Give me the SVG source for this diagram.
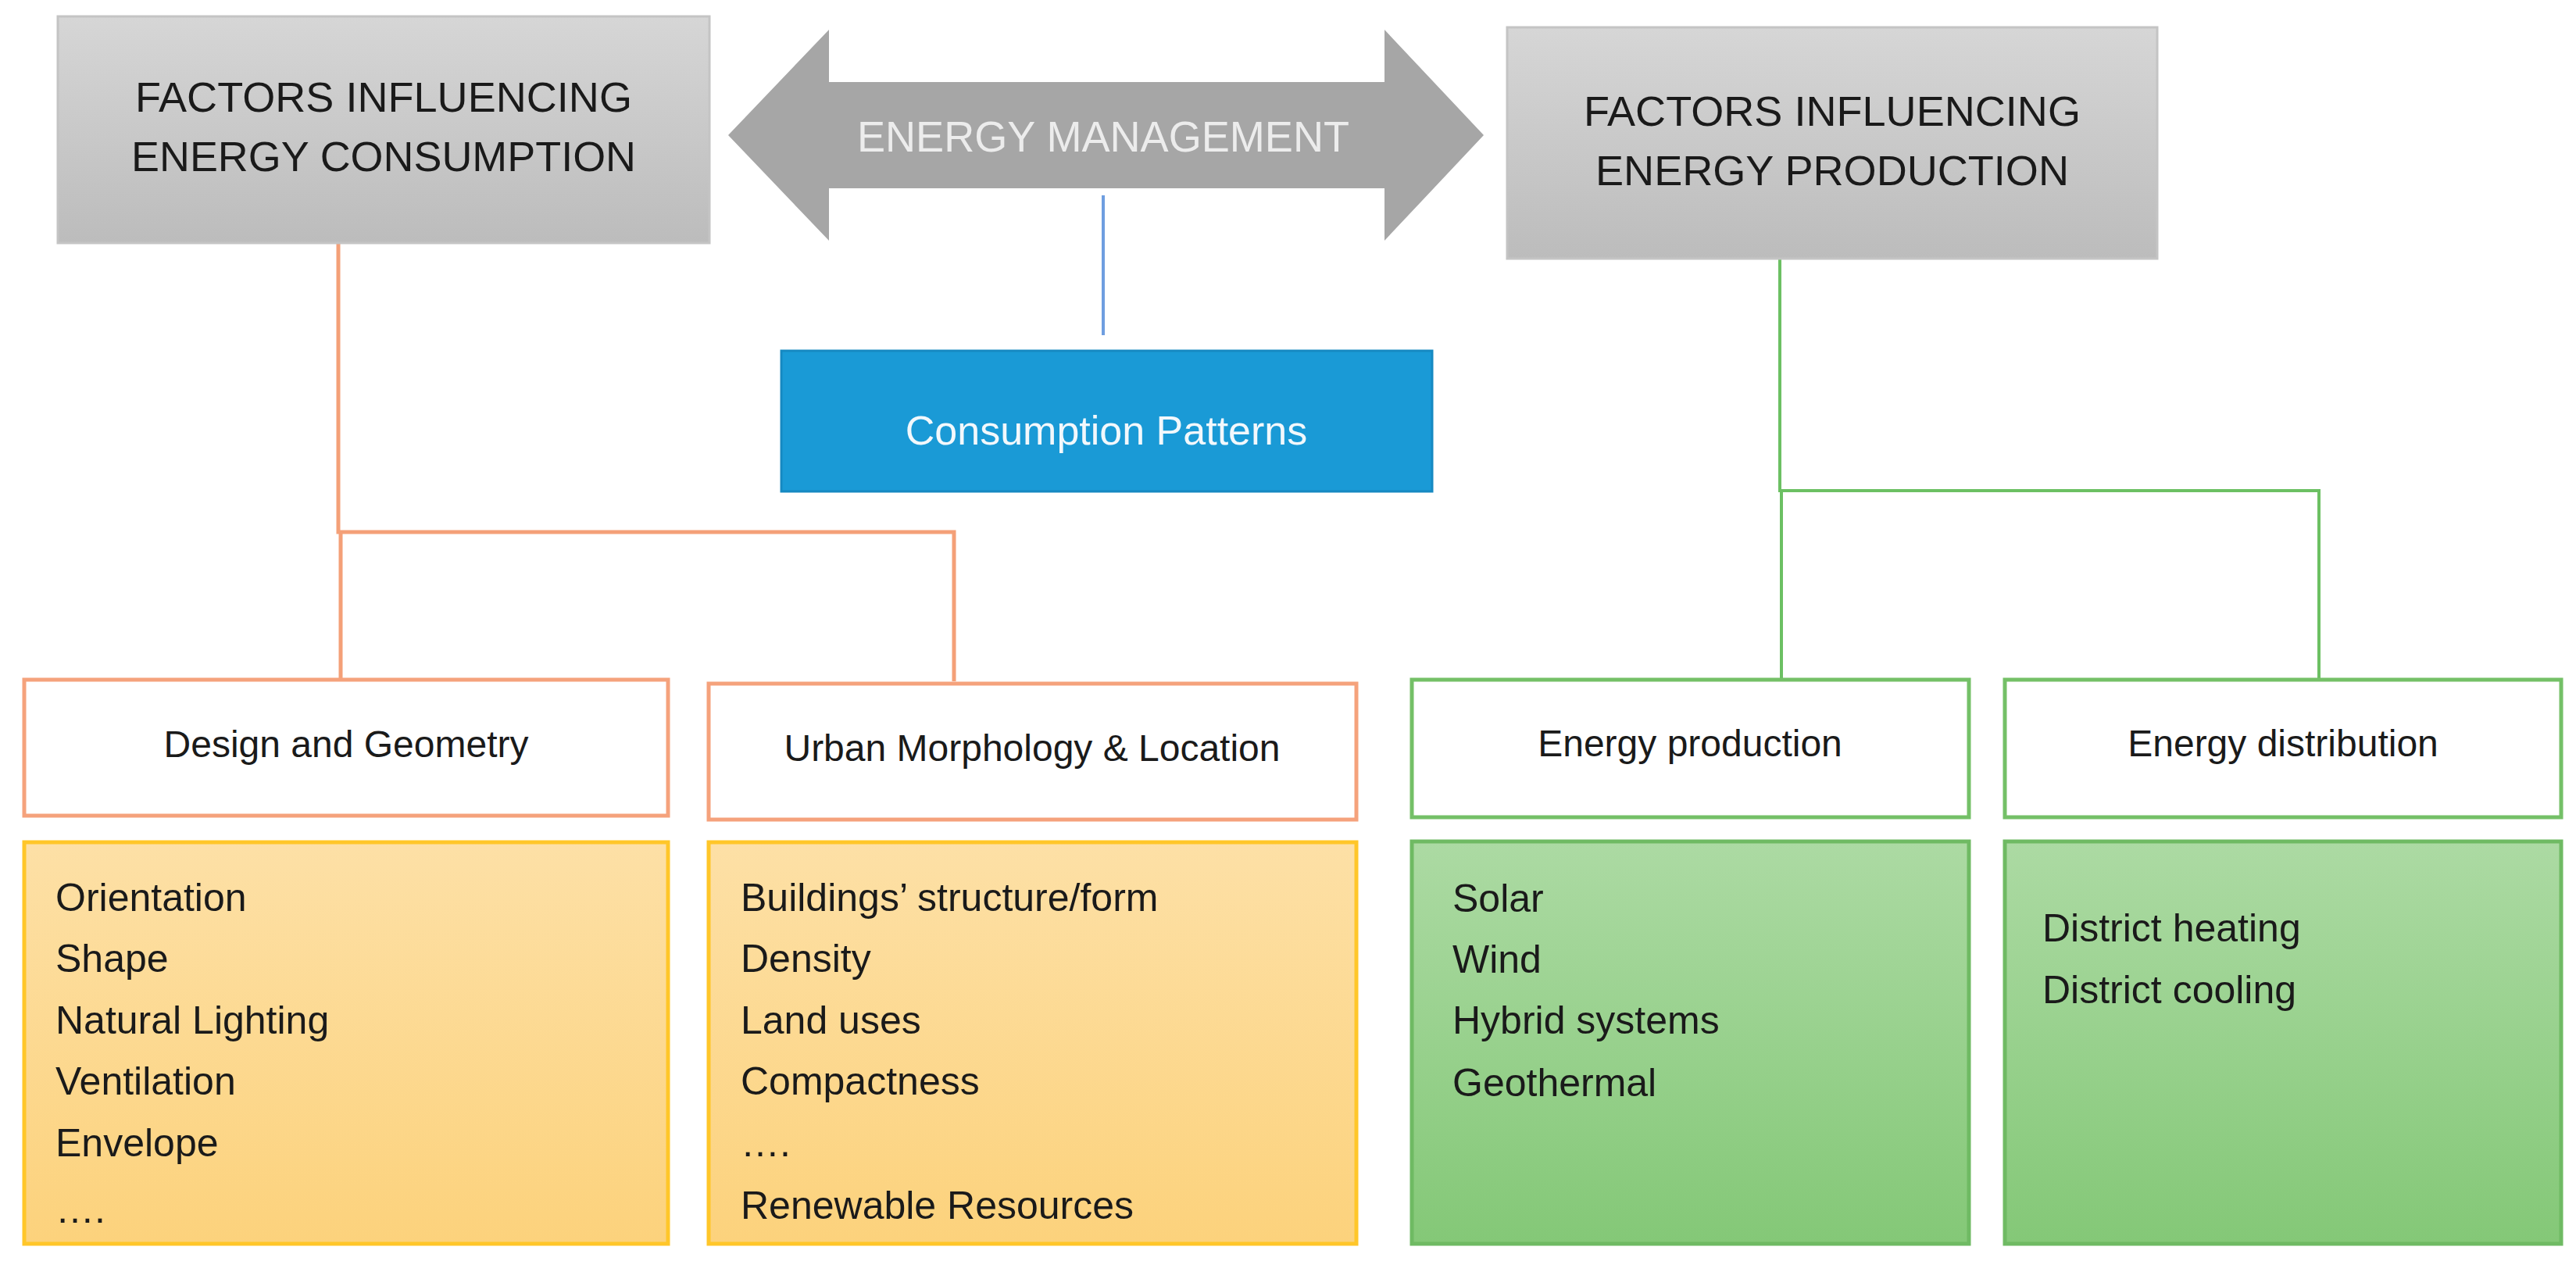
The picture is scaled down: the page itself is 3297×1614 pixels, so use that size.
<svg xmlns="http://www.w3.org/2000/svg" width="3297" height="1614" viewBox="0 0 3297 1614">
<defs>
<linearGradient id="gGray" x1="0" y1="0" x2="0" y2="1"><stop offset="0" stop-color="#d6d6d6"/><stop offset="1" stop-color="#bcbcbc"/></linearGradient>
<linearGradient id="gYel" x1="0" y1="0" x2="0" y2="1"><stop offset="0" stop-color="#fde0a6"/><stop offset="1" stop-color="#fcd27c"/></linearGradient>
<linearGradient id="gGrn" x1="0" y1="0" x2="0" y2="1"><stop offset="0" stop-color="#acdaa3"/><stop offset="1" stop-color="#84c877"/></linearGradient>
</defs>
<style>
text{font-family:"Liberation Sans",Arial,sans-serif;}
.head{font-size:54px;fill:#1a1a1a;text-anchor:middle;}
.sub{font-size:48px;fill:#1a1a1a;text-anchor:middle;}
.item{font-size:50px;fill:#1a1a1a;}
.gray{fill:url(#gGray);stroke:#c4c4c4;stroke-width:3;}
.ohead{fill:#fff;stroke:#f5a27c;stroke-width:5;}
.ghead{fill:#fff;stroke:#74c067;stroke-width:5;}
.ybox{fill:url(#gYel);stroke:#ffc629;stroke-width:5;}
.gbox{fill:url(#gGrn);stroke:#6fba63;stroke-width:5;}
</style>
<rect width="3297" height="1614" fill="#fff"/>
<g id="connectors" fill="none">
<polyline points="433,311 433,681 1221,681 1221,872" stroke="#f4a078" stroke-width="5"/>
<line x1="436" y1="681" x2="436" y2="870" stroke="#f4a078" stroke-width="5"/>
<line x1="1412" y1="250" x2="1412" y2="429" stroke="#6f9ee0" stroke-width="4"/>
<polyline points="2278,331 2278,628 2968,628 2968,870" stroke="#6cc063" stroke-width="4"/>
<line x1="2280" y1="628" x2="2280" y2="870" stroke="#6cc063" stroke-width="4"/>
</g>
<g id="consumption">
<rect class="gray" x="74" y="21" width="834" height="290"/>
<text class="head" x="491" y="143" textLength="636" lengthAdjust="spacingAndGlyphs">FACTORS INFLUENCING</text>
<text class="head" x="491" y="219" textLength="646" lengthAdjust="spacingAndGlyphs">ENERGY CONSUMPTION</text>
</g>
<g id="management">
<polygon points="932,173 1061,38 1061,105 1772,105 1772,38 1899,173 1772,308 1772,241 1061,241 1061,308" fill="#a6a6a6"/>
<text x="1412" y="194" font-size="56" fill="#ececec" text-anchor="middle" textLength="630" lengthAdjust="spacingAndGlyphs">ENERGY MANAGEMENT</text>
</g>
<g id="production">
<rect class="gray" x="1929" y="35" width="832" height="296"/>
<text class="head" x="2345" y="161" textLength="636" lengthAdjust="spacingAndGlyphs">FACTORS INFLUENCING</text>
<text class="head" x="2345" y="237" textLength="606" lengthAdjust="spacingAndGlyphs">ENERGY PRODUCTION</text>
</g>
<g id="patterns">
<rect x="1000" y="449" width="833" height="180" fill="#1a9ad6" stroke="#1689c2" stroke-width="3"/>
<text x="1416" y="569" font-size="52" fill="#f2f8fc" text-anchor="middle">Consumption Patterns</text>
</g>
<g id="design">
<rect class="ohead" x="31" y="870" width="824" height="174"/>
<text class="sub" x="443" y="969">Design and Geometry</text>
</g>
<g id="urban">
<rect class="ohead" x="907" y="875" width="829" height="174"/>
<text class="sub" x="1321" y="974">Urban Morphology &amp; Location</text>
</g>
<g id="eprod">
<rect class="ghead" x="1807" y="870" width="713" height="176"/>
<text class="sub" x="2163" y="968">Energy production</text>
</g>
<g id="edist">
<rect class="ghead" x="2566" y="870" width="712" height="176"/>
<text class="sub" x="2922" y="968">Energy distribution</text>
</g>
<g id="design-list">
<rect class="ybox" x="31" y="1078" width="824" height="514"/>
<text class="item" x="71" y="1166">Orientation</text>
<text class="item" x="71" y="1244">Shape</text>
<text class="item" x="71" y="1323">Natural Lighting</text>
<text class="item" x="71" y="1401">Ventilation</text>
<text class="item" x="71" y="1480">Envelope</text>
<text class="item" x="71" y="1565">….</text>
</g>
<g id="urban-list">
<rect class="ybox" x="907" y="1078" width="829" height="514"/>
<text class="item" x="948" y="1166">Buildings’ structure/form</text>
<text class="item" x="948" y="1244">Density</text>
<text class="item" x="948" y="1323">Land uses</text>
<text class="item" x="948" y="1401">Compactness</text>
<text class="item" x="948" y="1480">….</text>
<text class="item" x="948" y="1560">Renewable Resources</text>
</g>
<g id="eprod-list">
<rect class="gbox" x="1807" y="1077" width="713" height="515"/>
<text class="item" x="1859" y="1167">Solar</text>
<text class="item" x="1859" y="1245">Wind</text>
<text class="item" x="1859" y="1323">Hybrid systems</text>
<text class="item" x="1859" y="1403">Geothermal</text>
</g>
<g id="edist-list">
<rect class="gbox" x="2566" y="1077" width="712" height="515"/>
<text class="item" x="2614" y="1205">District heating</text>
<text class="item" x="2614" y="1284">District cooling</text>
</g>
</svg>
